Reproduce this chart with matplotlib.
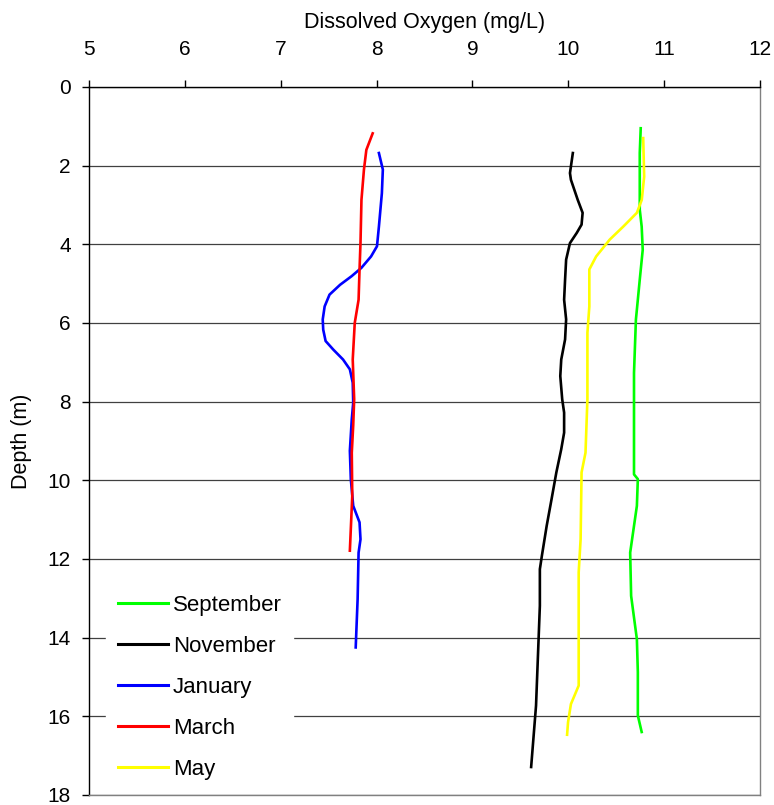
import matplotlib.pyplot as plt

plt.rcParams['font.family'] = ['Liberation Sans', 'DejaVu Sans']

# dissolved oxygen profiles (mg/L) against depth (m)
sep_do = [10.755, 10.745, 10.745, 10.765, 10.776, 10.745, 10.715, 10.705, 10.685,
          10.685, 10.685, 10.725, 10.715, 10.645, 10.655, 10.715, 10.725, 10.725,
          10.765]
sep_depth = [1.05, 1.68, 3.12, 3.55, 4.14, 4.90, 5.66, 5.91, 7.27, 9.64,
             9.85, 9.97, 10.65, 11.84, 12.94, 14.04, 14.88, 15.98, 16.40]

nov_do = [10.047, 10.017, 10.027, 10.098, 10.149, 10.138, 10.088, 10.017, 9.977,
          9.966, 9.956, 9.977, 9.966, 9.926, 9.916, 9.936, 9.956, 9.956, 9.926,
          9.875, 9.825, 9.774, 9.724, 9.703, 9.703, 9.683, 9.663, 9.612]
nov_depth = [1.68, 2.19, 2.36, 2.87, 3.20, 3.50, 3.71, 3.97, 4.39, 4.90, 5.41,
             5.91, 6.42, 6.93, 7.35, 7.94, 8.28, 8.79, 9.21, 9.80, 10.48, 11.16,
             11.92, 12.26, 13.19, 14.46, 15.73, 17.29]

jan_do = [8.024, 8.065, 8.055, 8.024, 8.004, 7.942, 7.841, 7.740, 7.619, 7.509,
          7.458, 7.438, 7.443, 7.468, 7.549, 7.650, 7.721, 7.751, 7.756, 7.741,
          7.721, 7.731, 7.756, 7.822, 7.832, 7.812, 7.802, 7.782]
jan_depth = [1.68, 2.10, 2.70, 3.55, 4.05, 4.31, 4.60, 4.81, 5.03, 5.28, 5.58,
             5.91, 6.17, 6.46, 6.68, 6.93, 7.18, 7.52, 8.03, 8.45, 9.25, 9.97,
             10.65, 11.07, 11.50, 11.84, 13.02, 14.25]

mar_do = [7.959, 7.893, 7.868, 7.842, 7.832, 7.822, 7.812, 7.772, 7.751, 7.766,
          7.756, 7.741, 7.746, 7.721]
mar_depth = [1.18, 1.60, 2.10, 2.87, 3.96, 4.64, 5.41, 6.00, 6.93, 7.94,
             8.60, 9.30, 10.40, 11.79]

may_do = [10.781, 10.791, 10.766, 10.715, 10.573, 10.432, 10.290, 10.219, 10.219,
          10.199, 10.199, 10.179, 10.138, 10.128, 10.108, 10.108, 10.027, 9.997,
          9.987]
may_depth = [1.30, 2.28, 2.87, 3.20, 3.55, 3.88, 4.31, 4.64, 5.58,
             6.25, 7.94, 9.30, 9.80, 11.50, 12.34, 15.22, 15.69, 16.15, 16.47]

fig = plt.figure(figsize=(7.74, 8.05), dpi=100)
ax = fig.add_axes([0.115, 0.0125, 0.867, 0.8795])

ax.plot(sep_do, sep_depth, color='#00ff00', lw=1.9, label='September')
ax.plot(nov_do, nov_depth, color='black', lw=1.9, label='November')
ax.plot(jan_do, jan_depth, color='#0000ff', lw=1.9, label='January')
ax.plot(mar_do, mar_depth, color='#ff0000', lw=1.9, label='March')
ax.plot(may_do, may_depth, color='#ffff00', lw=1.9, label='May')

ax.set_xlim(5, 12)
ax.set_ylim(18, 0)
ax.set_xticks(range(5, 13))
ax.set_yticks(range(0, 19, 2))
ax.xaxis.tick_top()
ax.xaxis.set_label_position('top')
ax.set_xlabel('Dissolved Oxygen (mg/L)', fontsize=15.5, labelpad=9)
ax.set_ylabel('Depth (m)', fontsize=15.5, labelpad=11)
ax.tick_params(axis='both', labelsize=15, direction='out', length=5,
               width=1, color='black')
ax.tick_params(axis='x', pad=15)
ax.tick_params(axis='y', pad=8)

ax.grid(axis='y', color='#404040', lw=0.9)
ax.set_axisbelow(True)
for side in ['right', 'bottom']:
    ax.spines[side].set_color('#808080')
    ax.spines[side].set_linewidth(1.0)
for side in ['left', 'top']:
    ax.spines[side].set_linewidth(1.0)

leg = ax.legend(loc='lower left', bbox_to_anchor=(0.026, 0.006),
                borderaxespad=0, fontsize=16, frameon=True, fancybox=False,
                framealpha=1, edgecolor='white', handlelength=2.25,
                handletextpad=0.25, labelspacing=0.9, borderpad=0.5)
for line in leg.get_lines():
    line.set_linewidth(2.2)

fig.savefig('out.png', dpi=100)
